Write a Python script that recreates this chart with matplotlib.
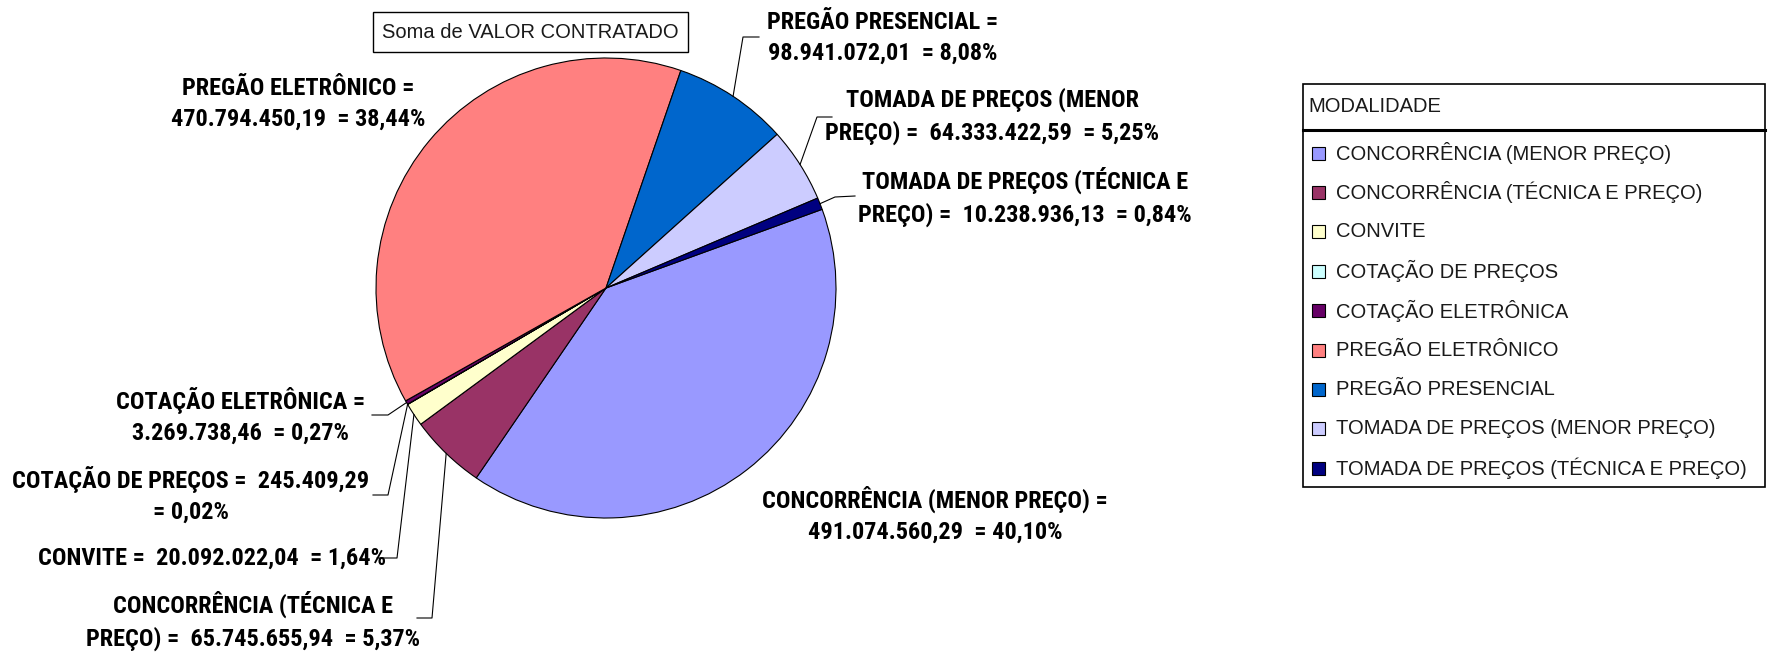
import matplotlib
matplotlib.use("Agg")
import matplotlib.pyplot as plt
from matplotlib import font_manager
from matplotlib.patches import Rectangle
import numpy as np

# canvas size in pixels
W, H = 1769, 653

modalidades = [
    "CONCORRÊNCIA (MENOR PREÇO)",
    "CONCORRÊNCIA (TÉCNICA E PREÇO)",
    "CONVITE",
    "COTAÇÃO DE PREÇOS",
    "COTAÇÃO ELETRÔNICA",
    "PREGÃO ELETRÔNICO",
    "PREGÃO PRESENCIAL",
    "TOMADA DE PREÇOS (MENOR PREÇO)",
    "TOMADA DE PREÇOS (TÉCNICA E PREÇO)",
]
valores = [491074560.29, 65745655.94, 20092022.04, 245409.29, 3269738.46,
           470794450.19, 98941072.01, 64333422.59, 10238936.13]
cores = ["#9999FF", "#993366", "#FFFFCC", "#CCFFFF", "#660066",
         "#FF8080", "#0066CC", "#CCCCFF", "#000080"]

# where each data label is broken into two lines ("" = single line)
quebras = ["=", "(TÉCNICA E", "", "245.409,29", "=", "=", "=", "(MENOR", "(TÉCNICA E"]

# label block centres (pixels, y from top) and widest-line width in the original
pos_rotulo = [(935, 515), (253, 621), (212, 558), (191, 495), (241, 416),
              (298, 104), (883, 38), (992, 116), (1025, 197)]
largura_rot = [364, 320, 329, 357, 257, 247, 244, 322, 346]
# leader lines: elbow point and end point (None = no leader)
guias = [None, ((432, 618), (417, 618)), ((397, 558), (377, 558)),
         ((388, 495), (373, 495)), ((388, 415), (372, 415)), None,
         ((743, 37), (759, 37)), ((817, 117), (832, 117)), ((835, 197), (855, 196))]

CX, CY, R = 606, 288, 230

# condensed bold font if there is one, otherwise Arial-like bold
instaladas = {f.name for f in font_manager.fontManager.ttflist}
fam_rot = next((n for n in ["Liberation Sans Narrow", "Arial Narrow", "Roboto Condensed",
                            "Open Sans Condensed"] if n in instaladas), "Liberation Sans")


def br(v, casas=2):
    s = f"{v:,.{casas}f}"
    return s.replace(",", "X").replace(".", ",").replace("X", ".")


def up(p):
    return (p[0], H - p[1])


total = sum(valores)
rotulos = []
for nome, v, q in zip(modalidades, valores, quebras):
    txt = f"{nome} =  {br(v)}  = {br(v / total * 100)}%"
    if q:
        i = txt.index(q) + len(q)
        txt = txt[:i].rstrip() + "\n" + txt[i:].lstrip()
    rotulos.append(txt)

fig = plt.figure(figsize=(W / 100, H / 100), dpi=100)
ax = fig.add_axes([0, 0, 1, 1])

wedges, _ = ax.pie(valores, colors=cores, startangle=20, counterclock=False,
                   center=up((CX, CY)), radius=R, frame=True,
                   wedgeprops=dict(edgecolor="black", linewidth=0.8))
ax.set_xlim(0, W)
ax.set_ylim(0, H)
ax.set_aspect("auto")
ax.axis("off")

textos = []
for w, txt, p, g in zip(wedges, rotulos, pos_rotulo, guias):
    x, y = up(p)
    t = ax.text(x, y, txt, ha="center", va="center", multialignment="center",
                family=fam_rot, weight="bold", fontsize=14, color="black",
                linespacing=1.4)
    textos.append(t)
    if g is not None:
        ang = np.deg2rad((w.theta1 + w.theta2) / 2)
        x0 = CX + R * np.cos(ang)
        y0 = (H - CY) + R * np.sin(ang)
        (ex, ey), (fx, fy) = up(g[0]), up(g[1])
        ax.plot([x0, ex, fx], [y0, ey, fy], color="black", lw=0.8)

# scale the label font so the label widths match the original
fig.canvas.draw()
rend = fig.canvas.get_renderer()
fator = np.median([alvo / t.get_window_extent(rend).width
                   for t, alvo in zip(textos, largura_rot)])
for t in textos:
    t.set_fontsize(14 * fator)
    t.set_linespacing(1.8 / fator)

# title box
ax.add_patch(Rectangle((373, H - 52), 315, 40, fill=False, edgecolor="black", lw=1.0))
ax.text(530, H - 32, "Soma de VALOR CONTRATADO", ha="center", va="center",
        family="Liberation Sans", fontsize=14.5, color="#1a1a1a")

# legend
lx0, ly0, lx1, ly1 = 1303, 84, 1765, 487
ax.add_patch(Rectangle((lx0, H - ly1), lx1 - lx0, ly1 - ly0, fill=False,
                       edgecolor="black", lw=1.2))
ax.plot([lx0, lx1], [H - 130, H - 130], color="black", lw=2.2)
ax.text(1308, H - 107, "MODALIDADE", ha="left", va="center",
        family="Liberation Sans", fontsize=14.5, color="#1a1a1a")
for i, (nome, c) in enumerate(zip(modalidades, cores)):
    yc = 153 + i * 39.4
    ax.add_patch(Rectangle((1312, H - yc - 6.5), 13, 13, facecolor=c,
                           edgecolor="black", lw=0.8))
    ax.text(1336, H - yc, nome, ha="left", va="center",
            family="Liberation Sans", fontsize=14.5, color="#1a1a1a")

fig.savefig("out.png", dpi=100, facecolor="white")
